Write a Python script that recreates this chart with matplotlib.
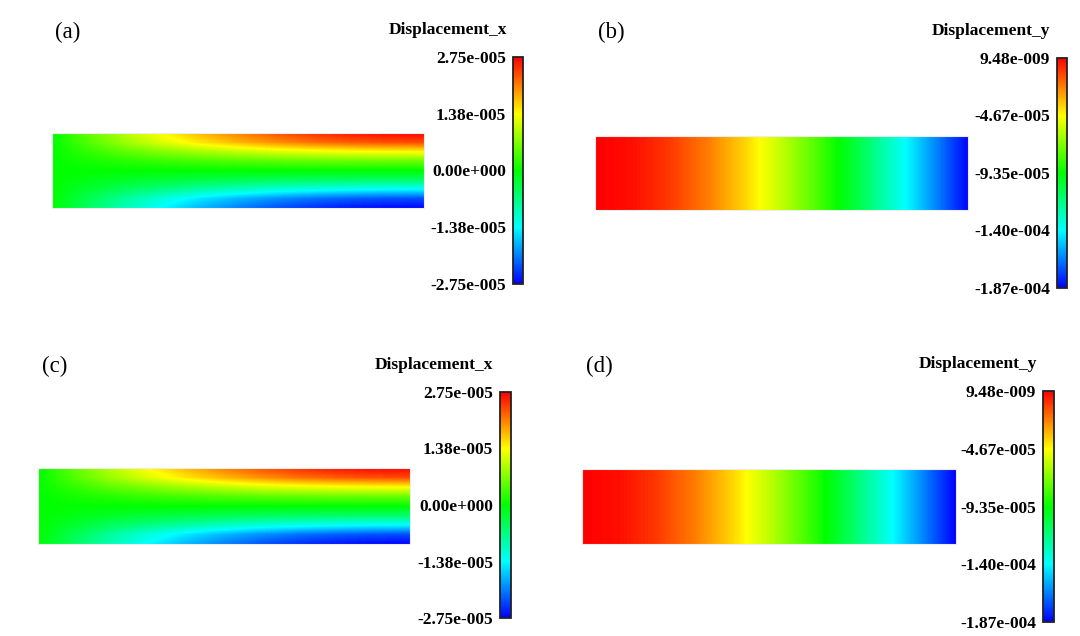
#!/usr/bin/env python3
"""Four-panel beam displacement contours (x and y components, two cases)."""
import numpy as np
import matplotlib

matplotlib.use("Agg")
import matplotlib.pyplot as plt  # noqa: E402
from matplotlib.colors import LinearSegmentedColormap, Normalize  # noqa: E402

W, H = 1080, 636

# nodes along the beam (fraction of length) and across the depth (bottom -> top)
X_NODES = [0.0, 0.1, 0.2, 0.3, 0.4, 0.5, 0.6, 0.7, 0.8, 0.9, 1.0]
Y_NODES = [0.0, 0.125, 0.25, 0.375, 0.5, 0.625, 0.75, 0.875, 1.0]

# Displacement_x, rows bottom -> top (units 1e-5)
UX_ROWS = [
    [0.00, -0.52, -0.99, -1.40, -1.76, -2.06, -2.31, -2.50, -2.64, -2.72, -2.75],
    [0.00, -0.44, -0.84, -1.19, -1.50, -1.75, -1.96, -2.13, -2.24, -2.31, -2.34],
    [0.00, -0.26, -0.50, -0.70, -0.88, -1.03, -1.16, -1.25, -1.32, -1.36, -1.38],
    [0.00, -0.11, -0.21, -0.30, -0.37, -0.43, -0.48, -0.52, -0.55, -0.56, -0.56],
    [0.00, 0.00, 0.00, 0.00, 0.00, 0.00, 0.00, 0.00, 0.00, 0.00, 0.00],
    [0.00, 0.11, 0.21, 0.30, 0.37, 0.43, 0.48, 0.52, 0.55, 0.56, 0.56],
    [0.00, 0.26, 0.50, 0.70, 0.88, 1.03, 1.16, 1.25, 1.32, 1.36, 1.38],
    [0.00, 0.44, 0.84, 1.19, 1.50, 1.75, 1.96, 2.13, 2.24, 2.31, 2.34],
    [0.00, 0.52, 0.99, 1.40, 1.76, 2.06, 2.31, 2.50, 2.64, 2.72, 2.75],
]
# Displacement_y along the beam, same through the depth (units 1e-5)
UY_ROW = [0.00, -0.27, -1.05, -2.27, -3.89, -5.84, -8.08, -10.54, -13.16, -15.90, -18.70]

UX_RANGE = (-2.75e-5, 2.75e-5)
UY_RANGE = (-1.87e-4, 9.48e-9)
UX_TICKS = [2.75e-5, 1.38e-5, 0.0, -1.38e-5, -2.75e-5]
UX_LABELS = ["2.75e-005", "1.38e-005", "0.00e+000", "-1.38e-005", "-2.75e-005"]
UY_TICKS = [9.48e-9, -4.67e-5, -9.35e-5, -1.40e-4, -1.87e-4]
UY_LABELS = ["9.48e-009", "-4.67e-005", "-9.35e-005", "-1.40e-004", "-1.87e-004"]

ux = np.array(UX_ROWS) * 1e-5
uy = np.tile(np.array(UY_ROW) * 1e-5, (len(Y_NODES), 1))

CMAP = LinearSegmentedColormap.from_list(
    "fe_rainbow", ["#0000ff", "#00ffff", "#00ff00", "#ffff00", "#ff0000"])

plt.rcParams.update({"font.family": "Liberation Serif"})

fig = plt.figure(figsize=(W / 100, H / 100), dpi=100)


def px_axes(x0, y0, x1, y1):
    """Axes from pixel box (top-left origin)."""
    return fig.add_axes([x0 / W, 1 - y1 / H, (x1 - x0) / W, (y1 - y0) / H])


def fx(x):
    return x / W


def fy(y):
    return 1 - y / H


# label, title, field, range, ticks, labels, beam box, colorbar box, label pos, title pos
PANELS = [
    ("(a)", "Displacement_x", ux, UX_RANGE, UX_TICKS, UX_LABELS,
     (52, 133, 424, 208), (513, 57, 523, 284), (55, 32), (507, 30)),
    ("(b)", "Displacement_y", uy, UY_RANGE, UY_TICKS, UY_LABELS,
     (595, 136, 968, 210), (1057, 58, 1067, 288), (598, 32), (1050, 31)),
    ("(c)", "Displacement_x", ux, UX_RANGE, UX_TICKS, UX_LABELS,
     (38, 468, 410, 544), (500, 392, 511, 618), (42, 366), (493, 365)),
    ("(d)", "Displacement_y", uy, UY_RANGE, UY_TICKS, UY_LABELS,
     (582, 469, 956, 544), (1043, 391, 1054, 622), (586, 366), (1037, 364)),
]

dx = X_NODES[1] - X_NODES[0]
dy = Y_NODES[1] - Y_NODES[0]
ext = [X_NODES[0] - dx / 2, X_NODES[-1] + dx / 2,
       Y_NODES[0] - dy / 2, Y_NODES[-1] + dy / 2]

for lab, title, field, (vmin, vmax), ticks, tlabels, beam, cbox, lpos, tpos in PANELS:
    norm = Normalize(vmin=vmin, vmax=vmax)
    ax = px_axes(*beam)
    im = ax.imshow(field, origin="lower", extent=ext, cmap=CMAP, norm=norm,
                   aspect="auto", interpolation="bilinear",
                   interpolation_stage="data")
    ax.set_xlim(X_NODES[0], X_NODES[-1])
    ax.set_ylim(Y_NODES[0], Y_NODES[-1])
    ax.set_xticks([]); ax.set_yticks([])
    for sp in ax.spines.values():
        sp.set_edgecolor("#ececec"); sp.set_linewidth(0.8)

    cax = px_axes(*cbox)
    cb = fig.colorbar(im, cax=cax)
    cb.outline.set_edgecolor("#222222"); cb.outline.set_linewidth(1.3)
    cax.yaxis.set_ticks_position("left")
    cb.set_ticks(ticks)
    cb.set_ticklabels(tlabels)
    cax.tick_params(length=0, pad=5, labelsize=12.5)
    for t in cax.get_yticklabels():
        t.set_fontweight("bold")

    fig.text(fx(lpos[0]), fy(lpos[1]), lab, fontsize=16.5, ha="left", va="center")
    fig.text(fx(tpos[0]), fy(tpos[1]), title, fontsize=12.5, fontweight="bold",
             ha="right", va="center")

fig.savefig("out.png", dpi=100, facecolor="white")
